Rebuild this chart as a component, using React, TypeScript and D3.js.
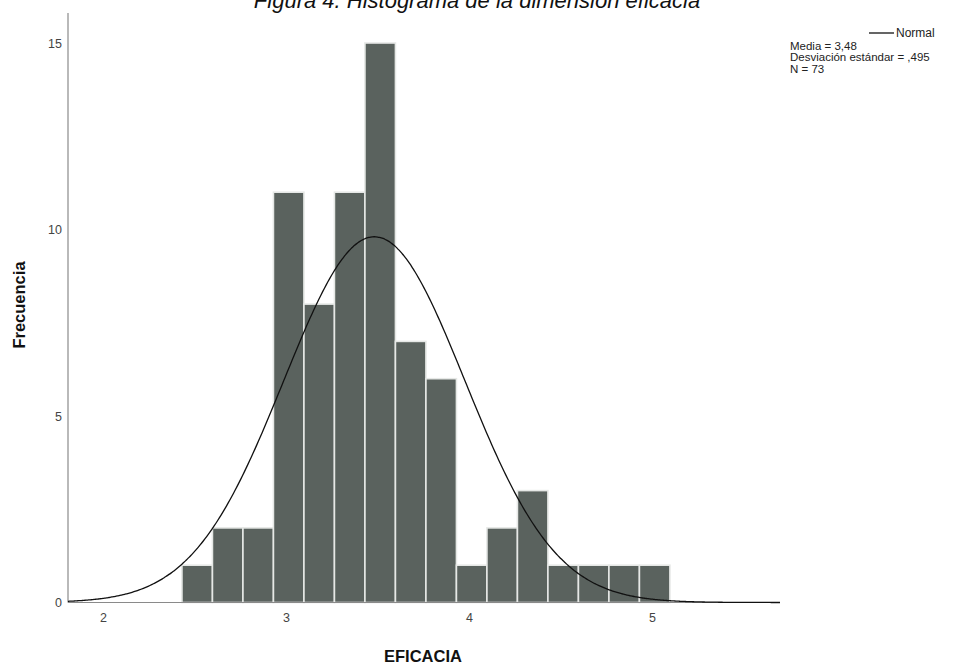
import React from "react";
import * as d3 from "d3";

const counts = [1, 2, 2, 11, 8, 11, 15, 7, 6, 1, 2, 3, 1, 1, 1, 1];
const binStart = 2.4287;
const binWidth = 0.16667;
const xTicks = [2, 3, 4, 5];
const yTicks = [0, 5, 10, 15];
const mean = 3.48;
const sd = 0.495;
const n = 73;
const legendLines = ["Media = 3,48", "Desviación estándar = ,495", "N = 73"];

const W = 954;
const H = 666;

export default function App() {
  const x = d3.scaleLinear().domain([1.806, 5.697]).range([68, 780]);
  const y = d3.scaleLinear().domain([0, 15]).range([602.5, 43]);
  const bins = counts.map((c, i) => ({
    x0: binStart + i * binWidth,
    x1: binStart + (i + 1) * binWidth,
    c,
  }));
  const pdf = (v: number) =>
    (n * binWidth * Math.exp(-((v - mean) ** 2) / (2 * sd * sd))) /
    (sd * Math.sqrt(2 * Math.PI));
  const pts = d3.range(0, 401).map((i) => {
    const v = 1.806 + (i / 400) * (5.697 - 1.806);
    return [v, pdf(v)] as [number, number];
  });
  const line = d3
    .line<[number, number]>()
    .x((d) => x(d[0]))
    .y((d) => y(d[1]))
    .curve(d3.curveBasis);
  const font = "Arial, 'Liberation Sans', sans-serif";
  return (
    <svg
      width={W}
      height={H}
      style={{ position: "absolute", left: 0, top: 0, background: "#fff" }}
      fontFamily={font}
    >
      <text
        x={477}
        y={8}
        textAnchor="middle"
        fontSize={22}
        fontStyle="italic"
        fill="#111"
      >
        Figura 4. Histograma de la dimensión eficacia
      </text>
      {bins.map((b, i) => (
        <rect
          key={i}
          x={x(b.x0)}
          y={y(b.c)}
          width={x(b.x1) - x(b.x0)}
          height={y(0) - y(b.c)}
          fill="#5a625e"
          stroke="#e6e8e6"
          strokeWidth={1.6}
        />
      ))}
      <line x1={68} x2={68} y1={13} y2={y(0)} stroke="#8a8a8a" strokeWidth={1.2} />
      <line x1={68} x2={780} y1={y(0)} y2={y(0)} stroke="#8a8a8a" strokeWidth={1.2} />
      <path d={line(pts) || ""} fill="none" stroke="#111" strokeWidth={1.3} />
      {yTicks.map((t) => (
        <text key={t} x={62} y={y(t) + 4.5} textAnchor="end" fontSize={12.5} fill="#444">
          {t}
        </text>
      ))}
      {xTicks.map((t) => (
        <text key={t} x={x(t)} y={622} textAnchor="middle" fontSize={12.5} fill="#444">
          {t}
        </text>
      ))}
      <text
        transform="translate(25,305) rotate(-90)"
        textAnchor="middle"
        fontSize={16.5}
        fontWeight="bold"
        fill="#111"
      >
        Frecuencia
      </text>
      <text x={423} y={662} textAnchor="middle" fontSize={16.5} fontWeight="bold" fill="#111">
        EFICACIA
      </text>
      <line x1={869} x2={894} y1={33} y2={33} stroke="#111" strokeWidth={1.3} />
      <text x={896} y={37} fontSize={12} fill="#222">
        Normal
      </text>
      {legendLines.map((l, i) => (
        <text key={i} x={790} y={49.5 + i * 11.5} fontSize={11.5} fill="#222">
          {l}
        </text>
      ))}
    </svg>
  );
}
